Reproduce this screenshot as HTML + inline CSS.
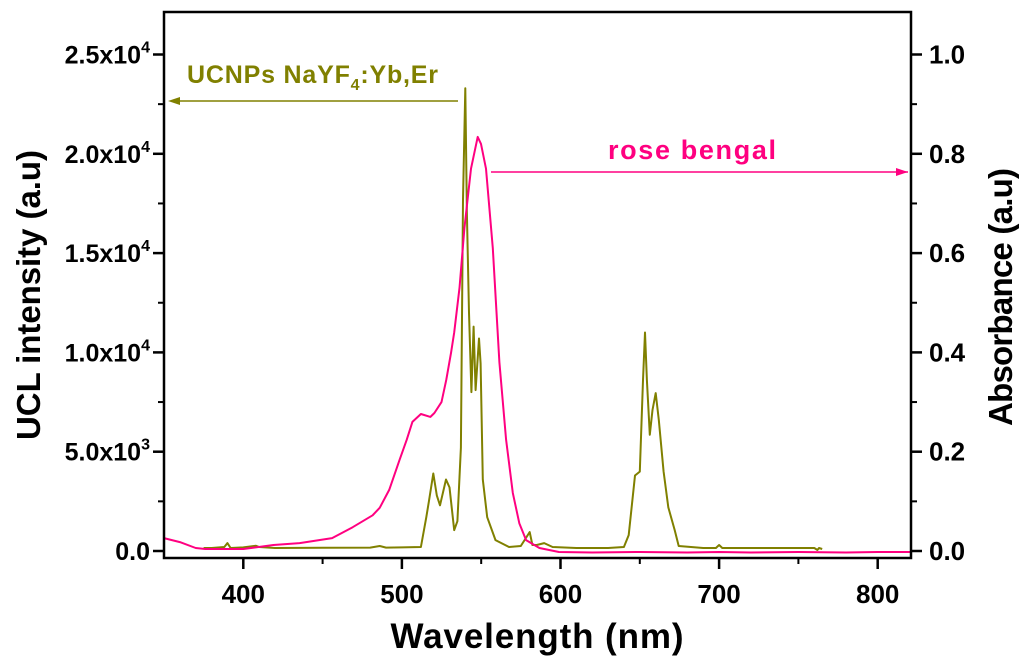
<!DOCTYPE html>
<html><head><meta charset="utf-8"><style>
html,body{margin:0;padding:0;background:#fff;}
svg text{font-family:"Liberation Sans",Arial,sans-serif;font-weight:bold;}
</style></head><body>
<svg id="chart" width="1024" height="660" viewBox="0 0 1024 660" xmlns="http://www.w3.org/2000/svg">
<defs>
<marker id="arrOl" markerWidth="12" markerHeight="8" refX="0" refY="4" orient="auto-start-reverse" markerUnits="userSpaceOnUse"><path d="M0,0 L12,4 L0,8 z" fill="#808000"/></marker>
<marker id="arrPk" markerWidth="12" markerHeight="8" refX="12" refY="4" orient="auto" markerUnits="userSpaceOnUse"><path d="M0,0 L12,4 L0,8 z" fill="#ff0080"/></marker>
</defs>
<g id="plot"></g>
<g id="axes"></g>
<text x="187" y="83" font-size="25" fill="#808000" textLength="251">UCNPs NaYF<tspan font-size="16" dy="7">4</tspan><tspan dy="-7">:Yb,Er</tspan></text>
<line x1="458" y1="101" x2="180" y2="101" stroke="#808000" stroke-width="1.5" marker-end="url(#arrOl)"/>
<text x="608" y="159" font-size="27" fill="#ff0080" textLength="168">rose bengal</text>
<line x1="491" y1="172" x2="908" y2="172" stroke="#ff0080" stroke-width="1.5" marker-end="url(#arrPk)"/>
<text x="537" y="648" font-size="35" text-anchor="middle" textLength="293">Wavelength (nm)</text>
<text transform="translate(40,295) rotate(-90)" font-size="33" text-anchor="middle" textLength="290">UCL intensity (a.u)</text>
<text transform="translate(1012,297) rotate(-90)" font-size="33" text-anchor="middle" textLength="258">Absorbance (a.u)</text>
</svg>
<script>
const ucnpWl =  [375,380,388,390,392,400,408,410,420,450,480,486,490,500,512,515.4,517,519.8,522,524,527.8,530,533,535,537.2,538.5,540,541,542.3,543.8,545.2,546.5,548.6,549.6,551,553.8,559,567.5,575,580.6,582.3,585,589.7,595,610,630,640,643,647,650,652,653.3,654.5,656.3,658,660,662,665,668,672,674.5,690,698,700,702,720,740,760,762,763,765];
const ucnpVal = [150,150,200,400,150,180,260,200,150,160,170,250,170,180,200,1700,2500,3900,2800,2300,3600,3200,1050,1500,5200,17700,23300,17000,12000,8000,11300,8100,10700,9450,3600,1700,550,200,250,950,300,300,400,200,150,150,200,800,3800,4000,8600,11000,8600,5850,7100,7950,6600,4000,2200,1050,250,150,150,300,150,150,150,150,50,150,100];
const rbWl =  [350,360,370,376,380,400,419,435.5,456,469,481.5,486,492,498.5,503,506.6,512,518,520.5,525,528,531,533,536.3,539.4,543.6,547.8,549.9,553,557.3,561.5,565.7,569.9,574,578.3,586.7,599,620,650,680,700,720,750,780,800,821];
const rbVal = [0.026,0.018,0.006,0.004,0.004,0.004,0.012,0.016,0.026,0.048,0.072,0.087,0.123,0.183,0.224,0.26,0.276,0.27,0.278,0.30,0.345,0.40,0.44,0.53,0.65,0.77,0.834,0.82,0.77,0.61,0.38,0.224,0.117,0.056,0.022,0.006,-0.002,-0.003,-0.002,-0.003,-0.002,-0.003,-0.002,-0.003,-0.002,-0.002];
const xTicks = [400,500,600,700,800];
const xMinor = [450,550,650,750];
const leftTicks = [0,5000,10000,15000,20000,25000];
const leftTickLabels = [["0.0",""],["5.0x10","3"],["1.0x10","4"],["1.5x10","4"],["2.0x10","4"],["2.5x10","4"]];
const leftMinor = [2500,7500,12500,17500,22500];
const rightTicks = [0,0.2,0.4,0.6,0.8,1.0];
const rightMinor = [0.1,0.3,0.5,0.7,0.9];

const L=164,R=911,T=12,B=558;
const X = w => L + (w-350)/(821-350)*(R-L);
const YL = v => 551 - v/5000*99.3;
const YR = v => 551 - v/0.2*99.3;
const NS="http://www.w3.org/2000/svg";
const plot=document.getElementById('plot'), axes=document.getElementById('axes');
function mk(tag,attrs,parent){const e=document.createElementNS(NS,tag);for(const k in attrs)e.setAttribute(k,attrs[k]);parent.appendChild(e);return e;}

let d=ucnpWl.map((w,i)=>(i?'L':'M')+X(w).toFixed(1)+','+YL(ucnpVal[i]).toFixed(1)).join(' ');
const p1=mk('path',{d:d,fill:'none',stroke:'#808000','stroke-width':2,'stroke-linejoin':'round'},plot);


d=rbWl.map((w,i)=>(i?'L':'M')+X(w).toFixed(1)+','+YR(rbVal[i]).toFixed(1)).join(' ');
const p2=mk('path',{d:d,fill:'none',stroke:'#ff0080','stroke-width':2,'stroke-linejoin':'round'},plot);



const frame=mk('rect',{x:L,y:T,width:R-L,height:B-T,fill:'none',stroke:'#000','stroke-width':2.5},axes);



xTicks.forEach(t=>{
  mk('line',{x1:X(t),x2:X(t),y1:B,y2:B+11,stroke:'#000','stroke-width':2.5},axes);
  const tx=mk('text',{x:X(t),y:B+45,'font-size':26,'text-anchor':'middle'},axes);
  tx.textContent=t;
  
  
});
xMinor.forEach(t=>mk('line',{x1:X(t),x2:X(t),y1:B,y2:B+6,stroke:'#000','stroke-width':2},axes));

leftTicks.forEach((t,i)=>{
  mk('line',{x1:L-11,x2:L,y1:YL(t),y2:YL(t),stroke:'#000','stroke-width':2.5},axes);
  const tx=mk('text',{x:150,y:YL(t)+9,'font-size':25,'text-anchor':'end'},axes);
  
  
  const a=document.createElementNS(NS,'tspan');a.textContent=leftTickLabels[i][0];tx.appendChild(a);
  if(leftTickLabels[i][1]){const s=document.createElementNS(NS,'tspan');s.setAttribute('font-size','16');s.setAttribute('dy','-11');s.textContent=leftTickLabels[i][1];tx.appendChild(s);}
});
leftMinor.forEach(t=>mk('line',{x1:L-6,x2:L,y1:YL(t),y2:YL(t),stroke:'#000','stroke-width':2},axes));

rightTicks.forEach(t=>{
  mk('line',{x1:R,x2:R+11,y1:YR(t),y2:YR(t),stroke:'#000','stroke-width':2.5},axes);
  const tx=mk('text',{x:929,y:YR(t)+9,'font-size':26},axes);
  tx.textContent=t.toFixed(1);
  
  
});
rightMinor.forEach(t=>mk('line',{x1:R,x2:R+6,y1:YR(t),y2:YR(t),stroke:'#000','stroke-width':2},axes));
</script>
</body></html>
